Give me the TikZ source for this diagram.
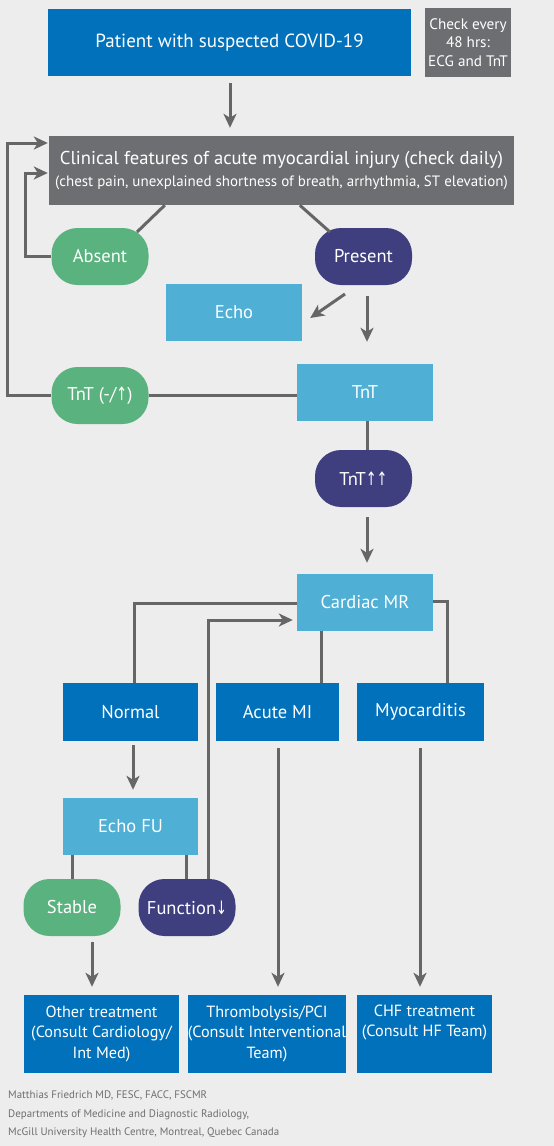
\documentclass[tikz,border=0pt]{standalone}
\usepackage{fontspec}
\setmainfont{PT Sans}
\newfontfamily\arrowfont{DejaVu Sans}
\usetikzlibrary{arrows.meta,calc}
\definecolor{bgc}{HTML}{EDEDED}
\definecolor{dblue}{HTML}{0071BA}
\definecolor{gbox}{HTML}{6D6E71}
\definecolor{lblue}{HTML}{4FAFD4}
\definecolor{grn}{HTML}{5AB27F}
\definecolor{purp}{HTML}{3F3F7F}
\definecolor{linec}{HTML}{666666}
\definecolor{footc}{HTML}{6E6E6E}
\newcommand{\ua}{{\arrowfont\scalebox{0.7}[1]{↑}}}
\newcommand{\da}{{\arrowfont\scalebox{0.7}[1]{↓}}}
\tikzset{
  box/.style={rectangle, inner sep=0pt, text=white, align=center, font=\fontsize{18.5}{22}\selectfont},
  dbox/.style={box, fill=dblue},
  lbox/.style={box, fill=lblue},
  gnode/.style={box, fill=gbox},
  pill/.style={box, rounded corners=26pt, minimum width=97pt, minimum height=57pt},
  gpill/.style={pill, fill=grn},
  ppill/.style={pill, fill=purp},
  tbox/.style={dbox, minimum height=78pt, font=\fontsize{16.2}{20.5}\selectfont},
  conn/.style={draw=linec, line width=3pt},
  arr/.style={conn, -{Stealth[length=14pt,width=13pt,inset=4pt]}},
}
\begin{document}
\begin{tikzpicture}[x=1pt,y=-1pt]
\fill[bgc] (0,0) rectangle (554,1146);
\useasboundingbox (0,0) rectangle (554,1146);

\node[dbox, minimum width=363pt, minimum height=67pt, font=\fontsize{19}{22}\selectfont] (patient) at (229.5,42.5) {Patient with suspected COVID-19};
\node[gnode, minimum width=86pt, minimum height=69pt, font=\fontsize{15.2}{18.5}\selectfont] (check) at (468,42.5) {Check every\\48 hrs:\\ECG and TnT};
\node[gnode, minimum width=465pt, minimum height=69pt] (clin) at (281.5,170.5) {\fontsize{18.6}{24}\selectfont Clinical features of acute myocardial injury (check daily)\\\fontsize{15}{18}\selectfont (chest pain, unexplained shortness of breath, arrhythmia, ST elevation)};
\node[gpill] (absent) at (100,256.5) {Absent};
\node[ppill] (present) at (363.5,256.5) {Present};
\node[lbox, minimum width=136pt, minimum height=57pt] (echo) at (234,312.5) {Echo};
\node[lbox, minimum width=136pt, minimum height=57pt] (tnt) at (365,392.5) {TnT};
\node[gpill] (tntm) at (100,395.5) {TnT (-/\ua)};
\node[ppill] (tntuu) at (363.5,478.5) {TnT\ua\ua};
\node[lbox, minimum width=136pt, minimum height=57pt] (cmr) at (365,602.5) {Cardiac MR};
\node[dbox, minimum width=135pt, minimum height=58pt] (normal) at (130.5,712) {Normal};
\node[dbox, minimum width=123pt, minimum height=58pt] (acute) at (277.5,712) {Acute MI};
\node[dbox, minimum width=127pt, minimum height=58pt] (myo) at (420.5,712) {Myocarditis};
\node[lbox, minimum width=135pt, minimum height=57pt] (echofu) at (130.5,826.5) {Echo FU};
\node[gpill] (stable) at (72,907.5) {Stable};
\node[ppill] (func) at (187,907.5) {Function\da};
\node[tbox, minimum width=155pt] (other) at (101.5,1034) {Other treatment\\(Consult Cardiology/\\Int Med)};
\node[tbox, minimum width=156pt] (thromb) at (267,1034) {Thrombolysis/PCI\\(Consult Interventional\\Team)};
\node[tbox, minimum width=135pt] (chf) at (424.5,1034) {CHF treatment\\(Consult HF Team)\\\strut};

\node[anchor=north west, inner sep=0pt, text=footc, align=left, font=\fontsize{10.9}{18.5}\selectfont] (foot) at (8,1091) {Matthias Friedrich MD, FESC, FACC, FSCMR\\Departments of Medicine and Diagnostic Radiology,\\McGill University Health Centre, Montreal, Quebec Canada};

% connectors
\draw[arr, shorten <=7pt, shorten >=8pt] ([xshift=0.5pt]patient.south) -- ([xshift=0.5pt]patient.south |- clin.north);
\draw[conn] ([xshift=116pt]clin.south west) -- ([xshift=37pt,yshift=24.5pt]absent.center);
\draw[conn] ([xshift=251pt]clin.south west) -- ([xshift=-33.5pt,yshift=24.5pt]present.center);
\draw[arr] (absent.west) -- ++(-26,0) |- ([yshift=-2.5pt,xshift=-1pt]clin.west);
\draw[arr] (tntm.west) -- ++(-44,0) |- ([yshift=27.5pt,xshift=-1pt]clin.west);
\draw[arr] ([xshift=-18.5pt,yshift=-37.5pt]present.center) -- ([xshift=8pt,yshift=-5.5pt]echo.east);
\draw[arr, shorten <=11pt, shorten >=22pt] ([xshift=3.5pt]present.south) -- ([xshift=3.5pt]present.south |- tnt.north);
\draw[conn] (tntm.east) -- (tntm.east -| tnt.west);
\draw[conn] ([xshift=2pt]tnt.south) -- ([xshift=2pt]tnt.south |- tntuu.north);
\draw[arr, shorten <=10pt, shorten >=11pt] ([xshift=2pt]tnt.south |- tntuu.south) -- ([xshift=2pt]tnt.south |- cmr.north);
\draw[conn] ([yshift=-0.5pt]cmr.west) -| ([xshift=3.5pt]normal.north);
\draw[conn] ([yshift=1.5pt]cmr.east) -| ([xshift=26.5pt]myo.north);
\draw[conn] ([xshift=-44pt]cmr.south) -- ([xshift=-44pt]cmr.south |- acute.north);
\draw[arr] ([xshift=21pt]func.north) |- ([yshift=-17.5pt,xshift=-4pt]cmr.west);
\draw[arr, shorten <=4pt, shorten >=8pt] ([xshift=2.5pt]normal.south) -- ([xshift=2.5pt]normal.south |- echofu.north);
\draw[conn] (stable.north |- echofu.south) -- (stable.north);
\draw[conn] ([xshift=-1pt]func.north |- echofu.south) -- ([xshift=-1pt]func.north);
\draw[arr, shorten <=6pt, shorten >=8pt] ([xshift=20pt]stable.south) -- ([xshift=20pt]stable.south |- other.north);
\draw[arr, shorten <=7pt, shorten >=8pt] ([xshift=0.5pt]acute.south) -- ([xshift=0.5pt]acute.south |- thromb.north);
\draw[arr, shorten <=7pt, shorten >=8pt] ([xshift=-0.5pt]myo.south) -- ([xshift=-0.5pt]myo.south |- chf.north);
\end{tikzpicture}
\end{document}
